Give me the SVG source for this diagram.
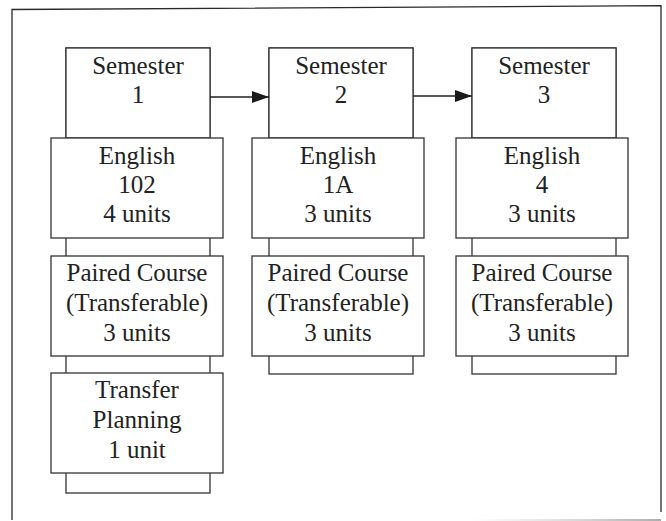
<svg xmlns="http://www.w3.org/2000/svg" width="666" height="521" viewBox="0 0 666 521">
  <style>
    .frame { fill: none; stroke: #2a2a2a; stroke-width: 1.3; }
    .box { fill: #ffffff; stroke: #333333; stroke-width: 1.3; }
    .spine { fill: #ffffff; stroke: #333333; stroke-width: 1.3; }
    .link { fill: none; stroke: #222222; stroke-width: 1.3; }
    .label { font-family: "Liberation Serif", Tinos, "Times New Roman", "DejaVu Serif", serif; font-size: 25px; fill: #222222; text-anchor: middle; }
  </style>
  <defs>
    <marker id="arrowhead" viewBox="0 0 17 12" refX="17" refY="6" markerUnits="userSpaceOnUse" markerWidth="17" markerHeight="12" orient="auto">
      <path d="M0,0 L17,6 L0,12 Z" fill="#1a1a1a"/>
    </marker>
    <linearGradient id="edgeFade" x1="0" y1="0" x2="1" y2="0">
      <stop offset="0" stop-color="#bbbbbb" stop-opacity="0"/>
      <stop offset="1" stop-color="#999999" stop-opacity="0.8"/>
    </linearGradient>
  </defs>

  <!-- outer frame -->
  <path class="frame" d="M12,520 L12,9.5 L661,5.7 L661,512"/>
  <rect x="470" y="519" width="191" height="2" fill="url(#edgeFade)"/>

  <!-- column spines (narrow backing strips) -->
  <g id="spines">
    <rect class="spine" x="66" y="48" width="144" height="445"/>
    <rect class="spine" x="269" y="48" width="144" height="326"/>
    <rect class="spine" x="472" y="48" width="144" height="326"/>
  </g>

  <g class="label">
    <!-- column 1 -->
    <g id="semester1">
      <rect class="box" x="66" y="48" width="144" height="90"/>
      <text x="138" y="74">Semester</text>
      <text x="138" y="103">1</text>
    </g>
    <g id="english102">
      <rect class="box" x="51" y="138" width="172" height="100"/>
      <text x="137" y="164">English</text>
      <text x="137" y="193">102</text>
      <text x="137" y="222">4 units</text>
    </g>
    <g id="paired1">
      <rect class="box" x="51" y="256" width="172" height="100"/>
      <text x="137" y="281">Paired Course</text>
      <text x="137" y="311">(Transferable)</text>
      <text x="137" y="341">3 units</text>
    </g>
    <g id="transfer-planning">
      <rect class="box" x="51" y="373" width="172" height="100"/>
      <text x="137" y="398">Transfer</text>
      <text x="137" y="428">Planning</text>
      <text x="137" y="458">1 unit</text>
    </g>

    <!-- column 2 -->
    <g id="semester2">
      <rect class="box" x="269" y="48" width="144" height="90"/>
      <text x="341" y="74">Semester</text>
      <text x="341" y="103">2</text>
    </g>
    <g id="english1a">
      <rect class="box" x="252" y="138" width="172" height="100"/>
      <text x="338" y="164">English</text>
      <text x="338" y="193">1A</text>
      <text x="338" y="222">3 units</text>
    </g>
    <g id="paired2">
      <rect class="box" x="252" y="256" width="172" height="100"/>
      <text x="338" y="281">Paired Course</text>
      <text x="338" y="311">(Transferable)</text>
      <text x="338" y="341">3 units</text>
    </g>

    <!-- column 3 -->
    <g id="semester3">
      <rect class="box" x="472" y="48" width="144" height="90"/>
      <text x="544" y="74">Semester</text>
      <text x="544" y="103">3</text>
    </g>
    <g id="english4">
      <rect class="box" x="456" y="138" width="172" height="100"/>
      <text x="542" y="164">English</text>
      <text x="542" y="193">4</text>
      <text x="542" y="222">3 units</text>
    </g>
    <g id="paired3">
      <rect class="box" x="456" y="256" width="172" height="100"/>
      <text x="542" y="281">Paired Course</text>
      <text x="542" y="311">(Transferable)</text>
      <text x="542" y="341">3 units</text>
    </g>
  </g>

  <!-- semester-to-semester connectors -->
  <g id="connectors">
    <line class="link" x1="210" y1="97" x2="269" y2="97" marker-end="url(#arrowhead)"/>
    <line class="link" x1="413" y1="96" x2="472" y2="96" marker-end="url(#arrowhead)"/>
  </g>
</svg>
